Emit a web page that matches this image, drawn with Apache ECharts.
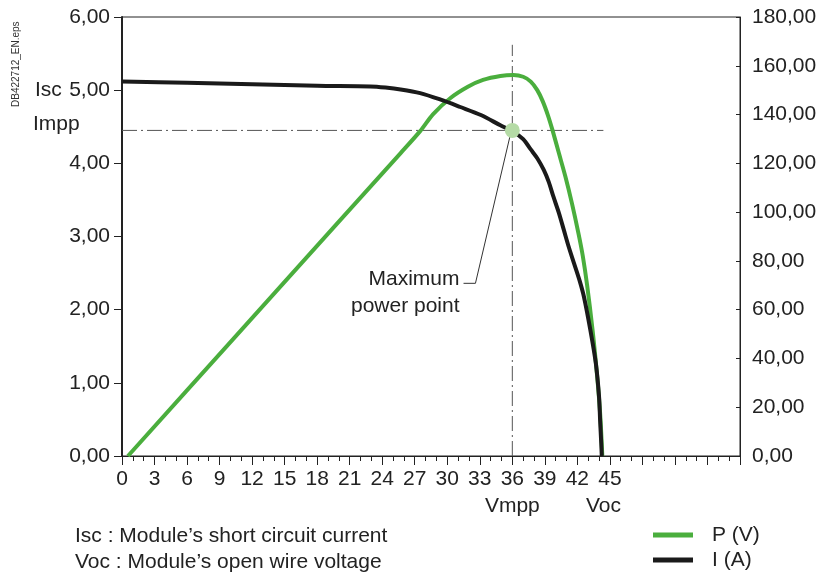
<!DOCTYPE html>
<html>
<head>
<meta charset="utf-8">
<script src="https://cdn.jsdelivr.net/npm/echarts@6/dist/echarts.min.js"></script>
<style>html,body{margin:0;padding:0;background:#fff;}#c{width:830px;height:574px;}</style>
</head>
<body>
<div id="c"></div>
<script>
// ---- data ----
var currentVolts = [0, 6, 12, 18, 22.9, 24.3, 25.7, 27.5, 29.4, 31.2, 33.1, 34.9, 36.1, 37.0, 37.7, 38.3, 38.9, 39.35, 39.8, 40.3, 40.75, 41.2, 41.7, 42.2, 42.6, 43.2, 43.7, 44.0, 44.1, 44.2, 44.25];
var currentAmps  = [5.12, 5.10, 5.08, 5.06, 5.05, 5.035, 5.01, 4.96, 4.87, 4.77, 4.66, 4.52, 4.43, 4.33, 4.19, 4.07, 3.91, 3.75, 3.54, 3.32, 3.09, 2.86, 2.63, 2.40, 2.18, 1.72, 1.27, 0.81, 0.48, 0.18, 0];
var powerVolts = [0.55, 10, 20, 25.7, 27.5, 28.7, 30.3, 31.9, 33.3, 34.9, 36.1, 37.0, 37.7, 38.3, 38.8, 39.3, 39.7, 40.3, 40.9, 41.5, 42.1, 42.5, 42.9, 43.4, 43.8, 44.1, 44.3];
var powerWatts = [0, 46.7, 96.1, 124.2, 133.2, 140.2, 146.8, 151.4, 154.2, 155.8, 156.2, 155.5, 153.5, 150.0, 145.5, 139.5, 133.7, 124.1, 114.5, 103.6, 91.3, 82.0, 70.0, 51.7, 33.9, 17.5, 0];
var vmpp = 36;
var impp = 4.45;
var voc = 44.4;
var vmppLineTop = 5.62;
var leaderVolts = [35.8, 32.6, 31.5];
var leaderAmps = [4.38, 2.36, 2.36];
var xTickLabels = ['0','3','6','9','12','15','18','21','24','27','30','33','36','39','42','45'];
var legendNames = ['P (V)', 'I (A)'];
var notes = ['Isc : Module\u2019s short circuit current', 'Voc : Module\u2019s open wire voltage'];

function zip(a, b) { return a.map(function (v, i) { return [v, b[i]]; }); }
function comma(v) { return v.toFixed(2).replace('.', ','); }

var FONT = '"Liberation Sans", Arial, sans-serif';
var FS = 21;
var GREEN = '#4aae3d';
var BLACK = '#1a1a1a';
var dashDot = [15, 4, 2, 4];

var chart = echarts.init(document.getElementById('c'), null, {renderer: 'canvas'});
chart.setOption({
  animation: false,
  backgroundColor: '#fff',
  textStyle: {fontFamily: FONT},
  grid: {left: 122, right: 90, top: 17, bottom: 118, show: true, borderColor: '#222', borderWidth: 1, backgroundColor: 'transparent'},
  legend: {
    data: legendNames,
    orient: 'vertical',
    left: 653, top: 524, padding: 0,
    itemWidth: 40, itemHeight: 5, itemGap: 3,
    icon: 'rect',
    textStyle: {fontFamily: FONT, fontSize: FS, color: '#222', padding: [0, 0, 0, 14], lineHeight: 22}
  },
  xAxis: {
    type: 'value', min: 0, max: 57, interval: 3,
    axisLine: {show: true, onZero: false, lineStyle: {color: '#222', width: 1}},
    axisTick: {show: true, length: 9, lineStyle: {color: '#222'}},
    minorTick: {show: true, splitNumber: 3, length: 5, lineStyle: {color: '#222'}},
    splitLine: {show: false},
    axisLabel: {
      fontSize: FS, color: '#222', margin: 13, fontFamily: FONT,
      formatter: function (v) { var s = String(v); return xTickLabels.indexOf(s) >= 0 ? s : ''; }
    }
  },
  yAxis: [{
    type: 'value', min: 0, max: 6, interval: 1, position: 'left',
    axisLine: {show: true, lineStyle: {color: '#222', width: 2}},
    axisTick: {show: true, length: 8, lineStyle: {color: '#222'}},
    splitLine: {show: false},
    axisLabel: {fontSize: FS, color: '#222', margin: 12, fontFamily: FONT, formatter: comma}
  }, {
    type: 'value', min: 0, max: 180, interval: 20, position: 'right',
    axisLine: {show: true, lineStyle: {color: '#222', width: 1}},
    axisTick: {show: true, inside: true, length: 4, lineStyle: {color: '#222'}},
    splitLine: {show: false},
    axisLabel: {fontSize: FS, color: '#222', margin: 12, fontFamily: FONT, formatter: comma}
  }],
  series: [{
    name: 'vmppGuide', type: 'line', yAxisIndex: 0, silent: true, symbol: 'none', z: 1,
    data: [[vmpp, 0], [vmpp, vmppLineTop]],
    lineStyle: {color: '#555', width: 1, type: dashDot}
  }, {
    name: 'imppGuide', type: 'line', yAxisIndex: 0, silent: true, symbol: 'none', z: 1,
    data: [[0, impp], [voc, impp]],
    lineStyle: {color: '#555', width: 1, type: dashDot}
  }, {
    name: 'leader', type: 'line', yAxisIndex: 0, silent: true, symbol: 'none', z: 1,
    data: zip(leaderVolts, leaderAmps),
    lineStyle: {color: '#333', width: 1},
    endLabel: {show: true, formatter: 'Maximum\npower point', align: 'right', fontSize: FS, lineHeight: 27, color: '#222', fontFamily: FONT, distance: 0, offset: [-4, 9]}
  }, {
    name: 'P (V)', type: 'line', yAxisIndex: 1, symbol: 'none', smooth: 0.3, z: 3,
    data: zip(powerVolts, powerWatts),
    itemStyle: {color: GREEN},
    lineStyle: {color: GREEN, width: 4, join: 'round'}
  }, {
    name: 'I (A)', type: 'line', yAxisIndex: 0, symbol: 'none', smooth: 0.3, z: 4,
    data: zip(currentVolts, currentAmps),
    itemStyle: {color: BLACK},
    lineStyle: {color: BLACK, width: 4, join: 'round'}
  }, {
    name: 'mpp', type: 'scatter', yAxisIndex: 0, silent: true, z: 6,
    data: [[vmpp, impp]],
    symbolSize: 15,
    itemStyle: {color: '#b5dba6', opacity: 1}
  }, {
    name: 'axisNames', type: 'scatter', yAxisIndex: 0, silent: true, z: 6,
    symbolSize: 0, clip: false,
    itemStyle: {opacity: 1},
    data: [[vmpp, 0, 'Vmpp'], [voc, 0, 'Voc']],
    label: {show: true, position: 'bottom', distance: 40, fontSize: FS, color: '#222', fontFamily: FONT,
            formatter: function (p) { return p.data[2]; }}
  }],
  graphic: [
    {type: 'text', left: 35, top: 80, style: {text: 'Isc', font: FS + 'px ' + FONT, fill: '#222'}},
    {type: 'text', left: 33, top: 114, style: {text: 'Impp', font: FS + 'px ' + FONT, fill: '#222'}},
    {type: 'text', left: 75, top: 526, style: {text: notes[0], font: FS + 'px ' + FONT, fill: '#222'}},
    {type: 'text', left: 75, top: 552, style: {text: notes[1], font: FS + 'px ' + FONT, fill: '#222'}},
    {type: 'text', x: 16, y: 107, rotation: Math.PI / 2,
     style: {text: 'DB422712_EN.eps', font: '10px ' + FONT, fill: '#333', textAlign: 'left', textVerticalAlign: 'middle'}}
  ]
});
</script>
</body>
</html>
